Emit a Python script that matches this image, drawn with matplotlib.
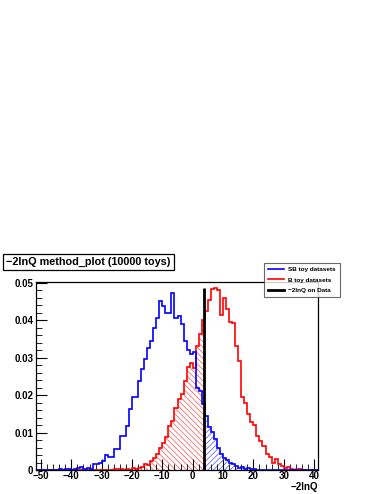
import numpy as np
import matplotlib
matplotlib.use("Agg")
import matplotlib.pyplot as plt
from matplotlib.patches import Rectangle
from matplotlib.lines import Line2D

# ---- data ----
blue_start = -45  # left edge of first bin, 1-unit bins
sb_values = [0, 0.0003, 0, 0.0002, 0.0003, 0, 0.0002,
             0.0005, 0.0007, 0.0004, 0.0006, 0.0003, 0.0016, 0.0016, 0.0018, 0.0025,
             0.0039, 0.0035, 0.0036, 0.0057, 0.0057, 0.0092, 0.0092, 0.0118, 0.0163,
             0.0194, 0.0194, 0.0238, 0.0270, 0.0297, 0.0327, 0.0345, 0.0380, 0.0406,
             0.0450, 0.0437, 0.0420, 0.0420, 0.0473, 0.0406, 0.0410, 0.0391, 0.0344,
             0.0320, 0.0310, 0.0315, 0.0220, 0.0210, 0.0177, 0.0145, 0.0114, 0.0101,
             0.0084, 0.0060, 0.0044, 0.0032, 0.0028, 0.0020, 0.0015, 0.0012, 0.0005,
             0.0007, 0.0003, 0.0005, 0.0002, 0.0003]
red_start = -26
b_values = [0.0002, 0.0003, 0.0002, 0, 0.0004, 0, 0.0005, 0.0003, 0.0006, 0.0008,
            0.0015, 0.0013, 0.0024, 0.0033, 0.0042, 0.0058, 0.0072, 0.0087, 0.0118,
            0.0130, 0.0165, 0.0190, 0.0202, 0.0238, 0.0275, 0.0287, 0.0272, 0.0331,
            0.0362, 0.0400, 0.0424, 0.0455, 0.0482, 0.0486, 0.0480, 0.0415, 0.0460,
            0.0429, 0.0395, 0.0393, 0.0331, 0.0291, 0.0194, 0.0180, 0.0150, 0.0128,
            0.0120, 0.0092, 0.0078, 0.0065, 0.0042, 0.0034, 0.0018, 0.0030, 0.0016,
            0.0010, 0.0005, 0.0008, 0.0004, 0.0001, 0.0004, 0.0002]
data_value = 3.7
x_ticks = [-50, -40, -30, -20, -10, 0, 10, 20, 30, 40]
y_ticks = [0, 0.01, 0.02, 0.03, 0.04, 0.05]
y_ticklabels = ["0", "0.01", "0.02", "0.03", "0.04", "0.05"]
title = "\u22122lnQ method_plot (10000 toys)"
xlabel = "\u22122lnQ"
legend_labels = ["SB toy datasets", "B toy datasets", "\u22122lnQ on Data"]

XMIN, XMAX = -51.65, 41.3
YMAX = 0.0502

def full(values, start):
    edges_lo = int(np.floor(XMIN))
    edges_hi = int(np.ceil(XMAX))
    vals = np.zeros(edges_hi - edges_lo)
    i0 = start - edges_lo
    vals[i0:i0 + len(values)] = values
    edges = np.arange(edges_lo, edges_hi + 1)
    return vals, edges

sb_full, edges = full(sb_values, blue_start)
b_full, _ = full(b_values, red_start)

plt.rcParams['font.family'] = ['Liberation Sans', 'DejaVu Sans']
plt.rcParams['hatch.linewidth'] = 0.5

W, H = 382, 494
fig = plt.figure(figsize=(W / 100, H / 100), dpi=100)
fig.patch.set_facecolor("white")
ax = fig.add_axes([36 / W, (H - 470) / H, (318 - 36) / W, (470 - 282) / H])

blue = "#0000ff"
red = "#ff0000"

# hatched regions
hb = ax.stairs(b_full, edges, fill=True, facecolor="none", edgecolor="#ff5050",
               hatch="\\\\\\\\\\\\", linewidth=0, zorder=1)
hb.set_clip_path(Rectangle((XMIN, 0), data_value - XMIN, 1, transform=ax.transData))
hs = ax.stairs(sb_full, edges, fill=True, facecolor="none", edgecolor="#5050ff",
               hatch="//////", linewidth=0, zorder=1)
hs.set_clip_path(Rectangle((data_value, 0), XMAX - data_value, 1, transform=ax.transData))

ax.stairs(b_full, edges, color=red, linewidth=1.2, zorder=2)
ax.stairs(sb_full, edges, color=blue, linewidth=1.2, zorder=3)
ax.vlines(data_value, 0, 0.0486, color="black", linewidth=2, zorder=4)

ax.set_xlim(XMIN, XMAX)
ax.set_ylim(0, YMAX)
ax.set_xticks(x_ticks)
ax.set_xticklabels([str(t).replace("-", "\u2212") for t in x_ticks])
ax.set_yticks(y_ticks)
ax.set_yticklabels(y_ticklabels)
ax.set_xticks(np.arange(-50, 41, 2), minor=True)
ax.set_yticks(np.arange(0, 0.0501, 0.002), minor=True)
ax.tick_params(axis="both", which="major", direction="in", length=8, width=0.8,
               labelsize=7, pad=2)
ax.tick_params(axis="both", which="minor", direction="in", length=4, width=0.6)
ax.tick_params(axis="x", pad=1)
for lab in ax.get_xticklabels() + ax.get_yticklabels():
    lab.set_fontweight("bold")
for s in ax.spines.values():
    s.set_linewidth(0.9)

fig.text(318 / W, 1 - 487 / H, xlabel, ha="right", va="center", fontsize=7,
         fontweight="bold")

# title box
fig.text(6 / W, 1 - 262 / H, title, ha="left", va="center", fontsize=7.8,
         fontweight="bold",
         bbox=dict(boxstyle="square,pad=0.3", facecolor="white", edgecolor="black",
                   linewidth=0.9))

# legend
handles = [Line2D([], [], color=blue, lw=1.2), Line2D([], [], color=red, lw=1.2),
           Line2D([], [], color="black", lw=2)]
leg = fig.legend(handles, legend_labels, loc="upper left",
                 bbox_to_anchor=(264 / W, 1 - 263 / H), fontsize=4.6,
                 frameon=True, fancybox=False, edgecolor="#444444",
                 handlelength=2.6, handletextpad=0.6, borderpad=0.6,
                 labelspacing=0.75, borderaxespad=0)
leg.get_frame().set_linewidth(0.8)
for t in leg.get_texts():
    t.set_fontweight("bold")

fig.savefig("out.png", dpi=100)
